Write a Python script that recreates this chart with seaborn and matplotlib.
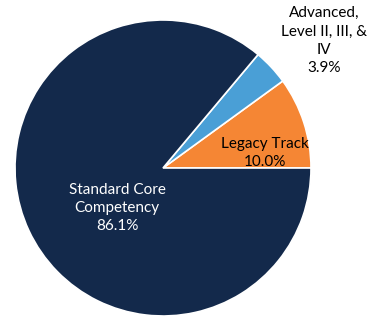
import seaborn as sns
import matplotlib.pyplot as plt

# slice data (counter-clockwise from 3 o'clock)
categories = ["Legacy Track", "Advanced,\nLevel II, III, &\nIV", "Standard Core\nCompetency"]
shares = [10.0, 3.9, 86.1]
colors = ["#F58634", "#4A9FD6", "#13294B"]
text_colors = ["black", "black", "white"]
# where each label sits (axes data units, pie radius = 1)
label_pos = [(0.69, 0.10), (1.09, 0.86), (-0.31, -0.27)]

sns.set_style("white")
plt.rcParams["font.family"] = ["Lato", "DejaVu Sans"]

fig = plt.figure(figsize=(3.81, 3.18), dpi=100)
ax = fig.add_axes([15 / 381, 2 / 318, 296 / 381, 296 / 318])

wedges, _ = ax.pie(shares, colors=colors, startangle=0, counterclock=True,
                   wedgeprops={"edgecolor": "white", "linewidth": 1.2})
ax.set_xlim(-1, 1)
ax.set_ylim(-1, 1)
ax.set_aspect("equal")
ax.axis("off")

for cat, val, (x, y), tc in zip(categories, shares, label_pos, text_colors):
    ax.text(x, y, f"{cat}\n{val:.1f}%", ha="center", va="center",
            color=tc, fontsize=11, linespacing=1.4, clip_on=False)

plt.savefig("out.png", dpi=100)
